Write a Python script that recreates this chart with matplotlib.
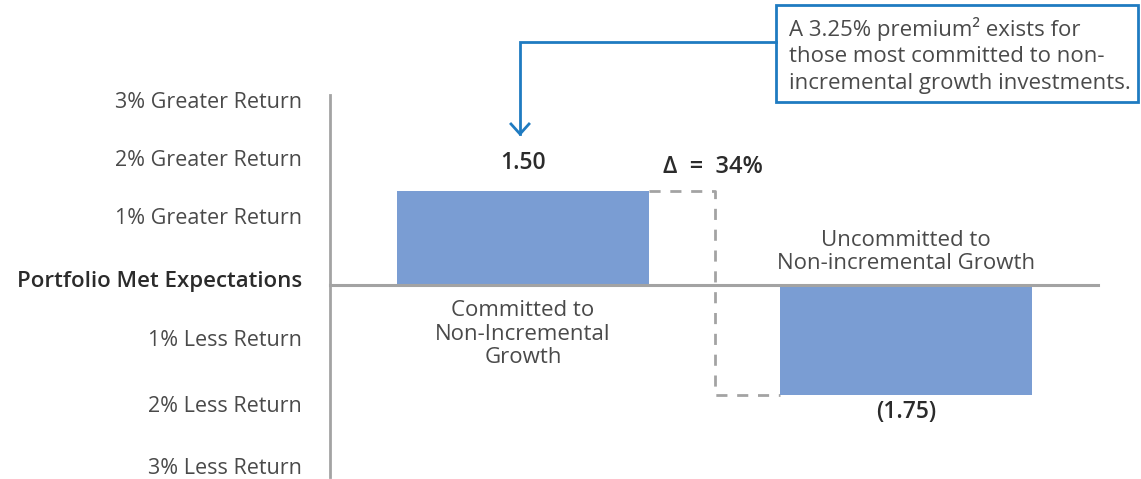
import matplotlib
matplotlib.use("Agg")
import matplotlib.pyplot as plt
from matplotlib.patches import Rectangle

# Data
categories = ["Committed to\nNon-Incremental\nGrowth", "Uncommitted to\nNon-incremental Growth"]
values = [1.50, -1.75]
value_labels = ["1.50", "(1.75)"]
tick_labels = ["3% Greater Return", "2% Greater Return", "1% Greater Return",
               "Portfolio Met Expectations", "1% Less Return", "2% Less Return",
               "3% Less Return"]
delta_label = "\u0394  =  34%"
callout_text = "A 3.25% premium\u00b2 exists for\nthose most committed to non-\nincremental growth investments."

BAR = "#7a9dd3"
GRAY = "#a3a3a3"
DARK = "#2b2b2b"
TXT = "#4a4a4a"
BLUE = "#1f7bc1"
FONT = ["Open Sans", "DejaVu Sans"]

W, H = 1141, 479
fig = plt.figure(figsize=(W / 100, H / 100), dpi=100)
ax = fig.add_axes([0, 0, 1, 1])

# scale: one category step = 383 px, one unit of return = 63 px
x0px, xstep = 523, 383
y0px, ystep = 285, 63
ax.set_xlim(-x0px / xstep, (W - x0px) / xstep)
ax.set_ylim(-(H - y0px) / ystep, y0px / ystep)
ax.axis("off")

def px(x):
    return (x - x0px) / xstep

def py(y):
    return (y0px - y) / ystep

xs = [0, 1]
width = 0.658
ax.bar(xs, values, width=width, color=BAR, zorder=2)

# axes lines
ax.plot([px(330), px(330)], [py(95), py(477)], color=GRAY, lw=2, zorder=1)
ax.plot([px(330), px(1098)], [0, 0], color=GRAY, lw=2.2, zorder=3)

# tick labels
label_y = [103, 160, 218, 282, 341, 407, 468]
for lab, yy in zip(tick_labels, label_y):
    bold = lab.startswith("Portfolio")
    ax.text(px(302), py(yy), lab, ha="right", va="center",
            fontsize=16 if bold else 15.5,
            family=FONT, color=DARK if bold else TXT,
            fontweight="semibold" if bold else "normal")

# value labels
ax.text(xs[0], py(163), value_labels[0], ha="center", va="center",
        fontsize=16.5, fontweight="semibold", family=FONT, color=DARK)
ax.text(xs[1], py(412), value_labels[1], ha="center", va="center",
        fontsize=16.5, fontweight="semibold", family=FONT, color=DARK)

# category labels
ax.text(xs[0], py(334), categories[0], ha="center", va="center", fontsize=16,
        family=FONT, color=TXT, linespacing=1.15)
ax.text(xs[1], py(252), categories[1], ha="center", va="center", fontsize=16,
        family=FONT, color=TXT, linespacing=1.15)

# dashed connector between bar ends
mid = (xs[0] + xs[1]) / 2
ax.plot([xs[0] + width / 2, mid, mid, xs[1] - width / 2],
        [values[0], values[0], values[1], values[1]],
        color=GRAY, lw=2, ls=(0, (4, 3.5)), zorder=1)
ax.text(mid - 0.005, py(167), delta_label, ha="center", va="center",
        fontsize=17, fontweight="semibold", family=FONT, color=DARK)

# callout box
ax.add_patch(Rectangle((px(776), py(102)), px(1138) - px(776), py(5) - py(102),
                       fill=False, edgecolor=BLUE, lw=2, zorder=4))
ax.text(px(789), py(55.5), callout_text, ha="left", va="center", fontsize=16,
        family=FONT, color=TXT, linespacing=1.32)

# leader line with open arrowhead
ax.plot([px(776), px(520), px(520)], [py(42), py(42), py(134)],
        color=BLUE, lw=2, solid_joinstyle="miter", zorder=4)
ax.plot([px(511), px(520), px(529)], [py(124), py(134), py(124)],
        color=BLUE, lw=2, zorder=4)

fig.savefig("out.png", dpi=100)
